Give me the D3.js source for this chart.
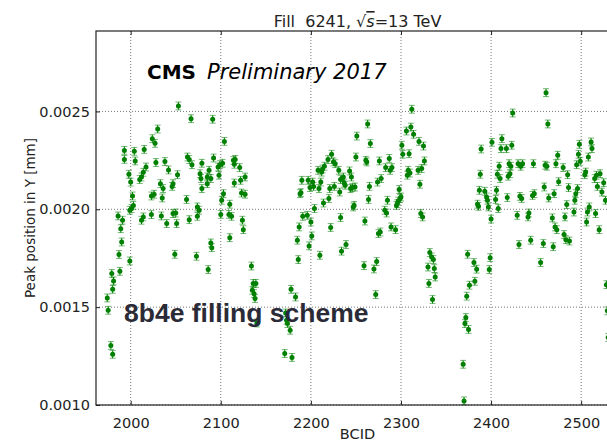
<!DOCTYPE html>
<html>
<head>
<meta charset="UTF-8">
<title>Fill 6241 peak position</title>
<script src="https://cdn.jsdelivr.net/npm/d3@7/dist/d3.min.js"></script>
<style>
  body { margin: 0; background: #fff; }
  svg { font-family: "DejaVu Sans", sans-serif; }
  .grid line { stroke: #777; stroke-width: 1; stroke-dasharray: 1,2; }
  .axis path { display: none; }
  .axis line { stroke: #222; stroke-width: 1; }
  .axis text { font-size: 14.5px; fill: #222; font-family: "DejaVu Sans", sans-serif; }
  .lbl { font-size: 13.5px; fill: #222; }
</style>
</head>
<body>
<svg width="607" height="443"></svg>
<script>
// bunch trains, BCID and fitted peak position (mm)
var bcidTrain1 = [
  1974,1975,1978,1980,1979,1981,1980,1986,1991,1989,
  1990,1987,1988,1993,1993,2004,2005,1998,2000,2002,
  1999,2003,2001,1999,2015,2012,2010,2014,2017,2024,
  2027,2030,2028,2038,2042,2033,2036,2046,2047,2052,
  2053,2063,2065,2068,2067,2077,2078,2085,2087,2089,
  2079,2085,2079,2091,2092,2097,2099,2102,2098,2104,
  2114,2115,2116,2121,2115,2122,2127,2023,2026,2035,
  2062,2103,2101,2110,2123,2127,2012,2014,2023,2034,
  2040,2047,2050,2051,2049,2065,2074,2076,2074,2073,
  2089,2090,2086,2100,2109,2112,2110,2124,2125,2134,
  2136,2139,2135,2137,2138,2140];
var posTrain1 = [
  0.001547,0.001484,0.001304,0.001259,0.001672,0.001634,0.001591,0.001966,0.001944,0.001901,
  0.001833,0.001769,0.001683,0.002301,0.002255,0.002296,0.002247,0.002179,0.002139,0.002068,
  0.001995,0.002020,0.002004,0.001736,0.002306,0.002165,0.002152,0.002189,0.002216,0.002361,
  0.002337,0.002410,0.002239,0.002244,0.002201,0.002131,0.002106,0.002117,0.002131,0.002177,
  0.002528,0.002267,0.002254,0.002228,0.002463,0.002182,0.002157,0.002165,0.002199,0.002157,
  0.002106,0.002131,0.002235,0.002460,0.002262,0.002216,0.002228,0.002235,0.002174,0.002347,
  0.002250,0.002230,0.002255,0.002213,0.002134,0.002148,0.002165,0.002068,0.002077,0.002058,
  0.002050,0.002080,0.002046,0.002026,0.002083,0.002077,0.001944,0.001961,0.001973,0.001966,
  0.001927,0.001978,0.001981,0.001927,0.001770,0.001947,0.002012,0.001995,0.001964,0.001760,
  0.001828,0.001804,0.001692,0.001974,0.001974,0.001964,0.001855,0.001944,0.001896,0.001710,
  0.001621,0.001621,0.001586,0.001569,0.001544,0.001419];

var bcidTrain2 = [
  2172,2174,2177,2173,2171,2179,2178,2183,2187,2185,
  2186,2200,2201,2198,2210,2222,2234,2239,2260,2259,
  2273,2270,2272,2275,2277,2289,2294,2332,2334,2336,
  2330,2337,2338,2331,2335,
  2312,2263,2251,2266,2306,2311,2314,2320,2325,2301,
  2302,2309,2326,2323,2319,2308,2310,2307,2321,2223,
  2219,2225,2227,2215,2213,2208,2212,2250,2261,2262,
  2276,2287,2283,2290,2288,2231,2243,2245,2236,2233,
  2237,2190,2197,2202,2203,2211,2209,2199,2189,2188,
  2221,2226,2232,2238,2244,2246,2249,2220,2214,2265,
  2274,2278,2264,2285,2298,2299,2300,2297,2295,2296,
  2248,2247,2204,2191,2196,2282,2284,2233,2322,2324];
var posTrain2 = [
  0.001470,0.001416,0.001382,0.001433,0.001263,0.001243,0.001591,0.001552,0.001910,0.001842,
  0.001743,0.001935,0.001864,0.001813,0.001765,0.001907,0.001786,0.001820,0.001940,0.001712,
  0.001733,0.001695,0.001564,0.001876,0.001884,0.001910,0.001896,0.001779,0.001756,0.001743,
  0.001705,0.001697,0.001654,0.001621,0.001539,
  0.002511,0.002436,0.002374,0.002336,0.002400,0.002420,0.002383,0.002347,0.002323,0.002327,
  0.002281,0.002284,0.002247,0.002208,0.002199,0.002199,0.002185,0.002174,0.002128,0.002281,
  0.002254,0.002242,0.002233,0.002220,0.002206,0.002199,0.002190,0.002267,0.002250,0.002242,
  0.002247,0.002260,0.002213,0.002213,0.002199,0.002199,0.002196,0.002165,0.002165,0.002152,
  0.002134,0.002148,0.002148,0.002139,0.002117,0.002139,0.002106,0.002111,0.002085,0.002080,
  0.002106,0.002117,0.002088,0.002123,0.002106,0.002111,0.002114,0.002055,0.002032,0.002117,
  0.002139,0.002157,0.002050,0.002046,0.002101,0.002055,0.002063,0.002042,0.002020,0.002029,
  0.002020,0.002012,0.002004,0.001964,0.001969,0.001995,0.001981,0.001958,0.001978,0.001961];

var bcidTrain3 = [
  2374,2381,2384,2399,2398,2376,2382,2373,2372,2371,
  2375,2369,2370,2431,2444,2458,2469,2471,2473,2481,
  2483,2487,2455,2506,2520,2528,2529,2530,
  2461,2424,2463,2401,2412,2411,2417,2423,2389,2498,
  2511,2512,2508,2497,2499,2495,2474,2472,2409,2420,
  2422,2430,2435,2433,2447,2460,2462,2388,2407,2410,
  2419,2421,2480,2485,2475,2486,2496,2505,2504,2517,
  2515,2521,2525,2518,2523,2527,2459,2470,2464,2448,
  2446,2432,2434,2418,2387,2393,2406,2405,2395,2396,
  2385,2386,2397,2408,2400,2494,2493,2492,2484,2482,
  2509,2507,2516,2429,2442,2441,2468];
var posTrain3 = [
  0.001770,0.001728,0.001694,0.001753,0.001692,0.001612,0.001632,0.001556,0.001447,0.001416,
  0.001386,0.001208,0.001021,0.001820,0.001842,0.001825,0.001809,0.001910,0.001896,0.001871,
  0.001845,0.001838,0.001728,0.001935,0.001896,0.001615,0.001481,0.001345,
  0.002596,0.002492,0.002436,0.002342,0.002361,0.002310,0.002310,0.002327,0.002308,0.002332,
  0.002344,0.002310,0.002267,0.002281,0.002245,0.002228,0.002276,0.002233,0.002220,0.002233,
  0.002220,0.002233,0.002233,0.002220,0.002233,0.002225,0.002220,0.002179,0.002179,0.002157,
  0.002169,0.002182,0.002213,0.002177,0.002141,0.002111,0.002106,0.002190,0.002177,0.002174,
  0.002157,0.002182,0.002136,0.002117,0.002088,0.002046,0.002114,0.002080,0.002058,0.002080,
  0.002071,0.002066,0.002055,0.002060,0.002097,0.002092,0.002097,0.002050,0.002063,0.002046,
  0.002026,0.002015,0.002012,0.002004,0.001950,0.002080,0.002046,0.001986,0.002024,0.001961,
  0.002012,0.001986,0.001978,0.001969,0.001981,0.001961,0.001956];

var posErr = 0.00002;   // fit uncertainty on the peak position
var xTicks = [2000, 2100, 2200, 2300, 2400, 2500];
var yTicks = [0.0010, 0.0015, 0.0020, 0.0025];

var bcid = bcidTrain1.concat(bcidTrain2, bcidTrain3);
var pos = posTrain1.concat(posTrain2, posTrain3);
var data = bcid.map(function(b, i) { return {x: b, y: pos[i]}; });

var L = 96, R = 619, T = 31, B = 405;
var svg = d3.select("svg");

var x = d3.scaleLinear().domain([1961.5, 2542]).range([L, R]);
var y = d3.scaleLinear().domain([0.0010, 0.002911]).range([B, T]);

// grid
var grid = svg.append("g").attr("class", "grid");
grid.selectAll(".gx").data(xTicks).enter().append("line")
  .attr("x1", function(d) { return x(d); }).attr("x2", function(d) { return x(d); })
  .attr("y1", T).attr("y2", B);
grid.selectAll(".gy").data(yTicks).enter().append("line")
  .attr("x1", L).attr("x2", R)
  .attr("y1", function(d) { return y(d); }).attr("y2", function(d) { return y(d); });

// points with error bars
var pts = svg.append("g").selectAll("g").data(data).enter().append("g")
  .attr("transform", function(d) { return "translate(" + x(d.x) + ",0)"; });
pts.append("line")
  .attr("x1", 0).attr("x2", 0)
  .attr("y1", function(d) { return y(d.y - posErr); })
  .attr("y2", function(d) { return y(d.y + posErr); })
  .attr("stroke", "#008000").attr("stroke-width", 1);
[-1, 1].forEach(function(s) {
  pts.append("line")
    .attr("x1", -3).attr("x2", 3)
    .attr("y1", function(d) { return y(d.y + s * posErr); })
    .attr("y2", function(d) { return y(d.y + s * posErr); })
    .attr("stroke", "#008000").attr("stroke-opacity", 0.55).attr("stroke-width", 1);
});
pts.append("circle")
  .attr("cy", function(d) { return y(d.y); })
  .attr("r", 2.5)
  .attr("fill", "#008000");

// axes, ticks pointing inside
svg.append("g").attr("class", "axis")
  .attr("transform", "translate(0," + B + ")")
  .call(d3.axisBottom(x).tickValues(xTicks).tickSizeInner(-4).tickSizeOuter(0)
    .tickPadding(12.5).tickFormat(d3.format("d")));
svg.append("g").attr("class", "axis")
  .attr("transform", "translate(0," + T + ")")
  .call(d3.axisTop(x).tickValues(xTicks).tickSizeInner(-4).tickSizeOuter(0).tickFormat(""));
svg.append("g").attr("class", "axis")
  .attr("transform", "translate(" + L + ",0)")
  .call(d3.axisLeft(y).tickValues(yTicks).tickSizeInner(-4).tickSizeOuter(0)
    .tickPadding(6).tickFormat(d3.format(".4f")));

// frame
svg.append("rect")
  .attr("x", L).attr("y", T).attr("width", R - L).attr("height", B - T)
  .attr("fill", "none").attr("stroke", "#222").attr("stroke-width", 1.2);

// labels
svg.append("text").attr("class", "lbl")
  .attr("x", (L + R) / 2).attr("y", 439).attr("text-anchor", "middle")
  .style("font-size", "14.5px")
  .text("BCID");
svg.append("text").attr("class", "lbl")
  .attr("transform", "translate(35," + (T + B) / 2 + ") rotate(-90)")
  .attr("text-anchor", "middle")
  .text("Peak position in Y [mm]");

var title = svg.append("text").attr("class", "lbl")
  .attr("x", (L + R) / 2).attr("y", 27).attr("text-anchor", "middle")
  .style("font-size", "16px").style("white-space", "pre");
title.append("tspan").text("Fill  6241, \u221A");
title.append("tspan").style("font-style", "italic").style("text-decoration", "overline").text("s");
title.append("tspan").text("=13 TeV");

svg.append("text").attr("x", 147).attr("y", 79)
  .style("font-size", "20px").style("font-weight", "bold").attr("fill", "#000")
  .text("CMS");
svg.append("text").attr("x", 207).attr("y", 79)
  .style("font-size", "21px").style("font-style", "italic").attr("fill", "#000")
  .text("Preliminary 2017");

svg.append("text").attr("x", 124).attr("y", 322)
  .style("font-family", "'Liberation Sans', Arial, sans-serif")
  .style("font-size", "26.5px").style("font-weight", "bold").attr("fill", "#2b2b38")
  .text("8b4e filling scheme");
</script>
</body>
</html>
